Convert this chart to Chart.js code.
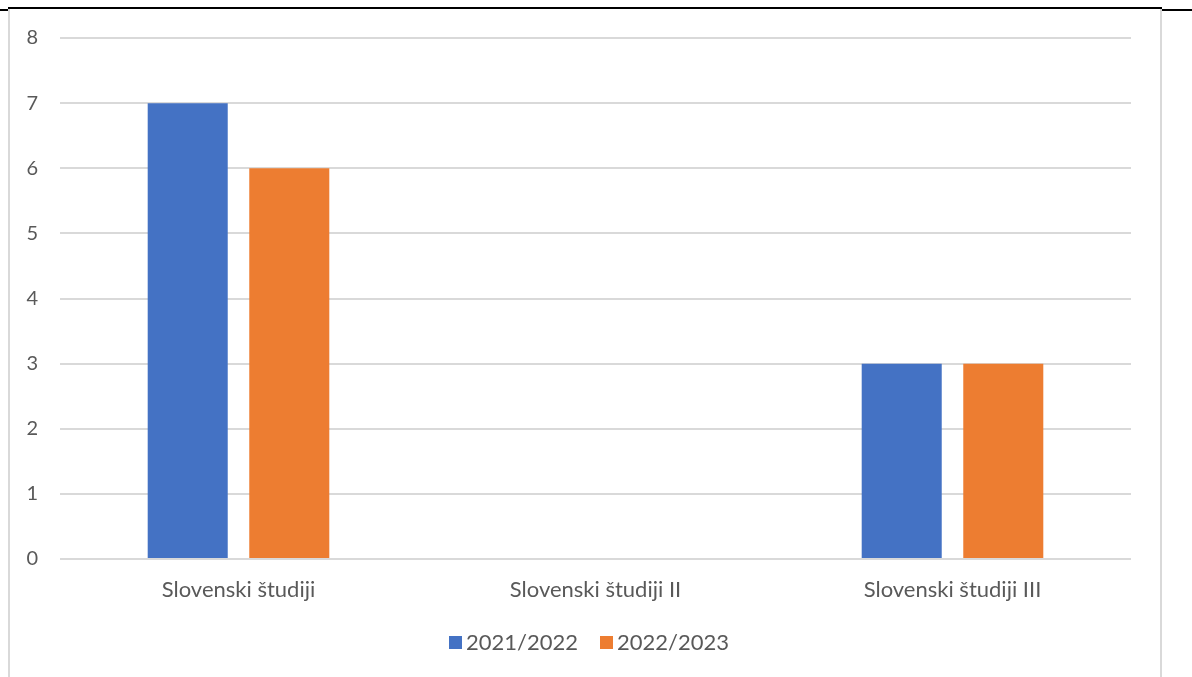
<!DOCTYPE html>
<html>
<head>
<meta charset="utf-8">
<script src="https://cdn.jsdelivr.net/npm/chart.js@4"></script>
<style>
  html, body { margin: 0; padding: 0; background: #fff; }
  body { width: 1192px; height: 677px; position: relative; overflow: hidden; }
  #wrap { position: absolute; left: 0; top: 0; width: 1192px; height: 677px; }
  .frame { position: absolute; left: 8px; top: 9px; width: 1150px; height: 700px; border-left: 2px solid #d9d9d9; border-right: 2px solid #d9d9d9; }
  .rule { position: absolute; left: 8px; top: 7px; width: 1154px; height: 2px; background: #000; }
  .rule-l { position: absolute; left: 0; top: 9px; width: 8px; height: 2px; background: #000; }
  .rule-r { position: absolute; left: 1162px; top: 9px; width: 30px; height: 2px; background: #000; }
  #legend { position: absolute; left: 0; top: 628px; width: 1178px; display: flex; justify-content: center;
            font-family: Lato, Carlito, Calibri, sans-serif; font-size: 22px; color: #595959; line-height: 28px; }
  #legend .item { display: flex; align-items: center; margin: 0 11px; }
  #legend .box { width: 13px; height: 13px; margin-right: 4px; }
</style>
</head>
<body>
<div class="frame"></div>
<div class="rule"></div>
<div class="rule-l"></div>
<div class="rule-r"></div>
<div id="wrap"><canvas id="studyChart"></canvas></div>
<div id="legend"></div>
<script>
// Chart data
const programmes = ['Slovenski študiji', 'Slovenski študiji II', 'Slovenski študiji III'];
const year2122 = [7, 0, 3];
const year2223 = [6, 0, 3];
const yTicks = [0, 1, 2, 3, 4, 5, 6, 7, 8];

const fontFamily = 'Lato, Carlito, Calibri, sans-serif';
const textColor = '#595959';

const ctx = document.getElementById('studyChart').getContext('2d');

const studyChart = new Chart(ctx, {
    type: 'bar',
    data: {
        labels: programmes,
        datasets: [
            {
                label: '2021/2022',
                data: year2122,
                backgroundColor: '#4472C4',
                categoryPercentage: 0.569,
                barPercentage: 0.788
            },
            {
                label: '2022/2023',
                data: year2223,
                backgroundColor: '#ED7D31',
                categoryPercentage: 0.569,
                barPercentage: 0.788
            }
        ]
    },
    options: {
        responsive: true,
        maintainAspectRatio: false,
        animation: false,
        layout: {padding: {left: 0, right: 61, top: 38, bottom: 55}},
        plugins: {
            legend: {display: false},
            tooltip: {enabled: false}
        },
        scales: {
            x: {
                grid: {display: false, drawTicks: false},
                border: {display: false},
                ticks: {color: textColor, padding: 18, font: {family: fontFamily, size: 22}},
                afterFit: scale => { scale.height = 63; }
            },
            y: {
                min: 0,
                max: 8,
                afterBuildTicks: scale => { scale.ticks = yTicks.map(v => ({value: v})); },
                grid: {color: '#d9d9d9', lineWidth: 2, drawTicks: false},
                border: {display: false},
                ticks: {color: textColor, padding: 22, font: {family: fontFamily, size: 20}},
                afterFit: scale => { scale.width = 60; }
            }
        }
    }
});

// HTML legend built from the datasets
const legendEl = document.getElementById('legend');
studyChart.data.datasets.forEach(ds => {
    const item = document.createElement('div');
    item.className = 'item';
    const box = document.createElement('span');
    box.className = 'box';
    box.style.background = ds.backgroundColor;
    const label = document.createElement('span');
    label.textContent = ds.label;
    item.appendChild(box);
    item.appendChild(label);
    legendEl.appendChild(item);
});
</script>
</body>
</html>
